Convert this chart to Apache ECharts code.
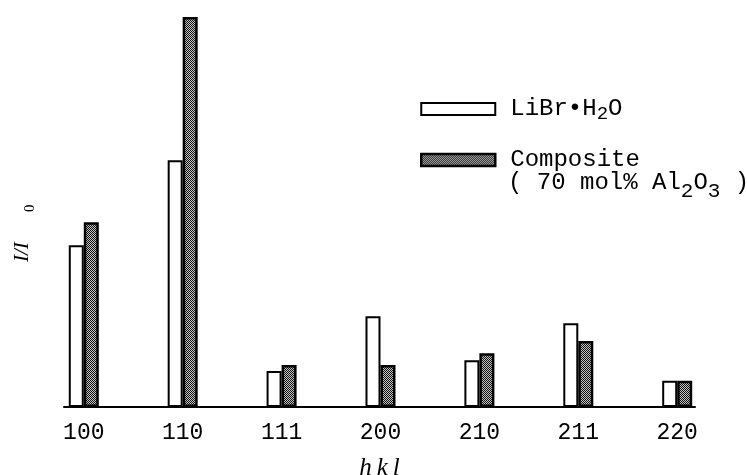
<!DOCTYPE html>
<html>
<head>
<meta charset="utf-8">
<script src="https://cdn.jsdelivr.net/npm/echarts@6/dist/echarts.min.js"></script>
<style>html,body{margin:0;padding:0;background:#fff;}#c{width:747px;height:475px;}</style>
</head>
<body>
<div id="c"></div>
<script>
var categories = ['100', '110', '111', '200', '210', '211', '220'];
var libr = [41.5, 63.3, 9.2, 23.3, 12.0, 21.5, 6.7];
var composite = [47.4, 100, 10.8, 10.8, 13.8, 16.9, 6.7];

var cv = document.createElement('canvas');
cv.width = 2; cv.height = 2;
var cx = cv.getContext('2d');
cx.fillStyle = '#c4c4c4'; cx.fillRect(0, 0, 2, 2);
cx.fillStyle = '#111'; cx.fillRect(0, 0, 1, 1); cx.fillRect(1, 1, 1, 1);
var pattern = { image: cv, repeat: 'repeat' };

var mono = '"Liberation Mono", "DejaVu Sans Mono", monospace';
var chart = echarts.init(document.getElementById('c'));
chart.setOption({
  animation: false,
  backgroundColor: '#fff',
  grid: { left: 64, right: 52, top: 17, bottom: 68, outerBoundsMode: 'none', containLabel: false },
  xAxis: {
    type: 'value',
    min: -0.2, max: 6.18, interval: 0.2,
    axisLine: { show: true, lineStyle: { color: '#000', width: 2 } },
    axisTick: { show: false },
    splitLine: { show: false },
    axisLabel: {
      color: '#000', fontFamily: mono, fontSize: 23, margin: 14,
      showMinLabel: false, showMaxLabel: false, hideOverlap: false,
      formatter: function (v) {
        var r = Math.round(v);
        return Math.abs(v - r) < 1e-6 && categories[r] ? categories[r] : '';
      }
    },
    name: 'h\u2009k\u2009l', nameLocation: 'middle', nameGap: 49,
    nameTextStyle: { fontFamily: '"Liberation Serif", serif', fontStyle: 'italic', fontSize: 25, color: '#000' }
  },
  yAxis: {
    type: 'value', min: 0, max: 100,
    show: false
  },
  legend: {
    orient: 'vertical', left: 415, top: 92,
    itemWidth: 74, itemHeight: 12, itemGap: 25, icon: 'rect',
    textStyle: {
      fontFamily: mono, fontSize: 24, color: '#000', padding: [0, 0, 0, 10],
      rich: {
        a: { fontFamily: mono, fontSize: 24, color: '#000', lineHeight: 24 },
        s: { fontFamily: mono, fontSize: 19, color: '#000', padding: [9, 0, 0, 0] }
      }
    },
    formatter: function (n) {
      if (n === 'LiBr·H2O') return '{a|LiBr•H}{s|2}{a|O}';
      return '{a|' + n + '}';
    },
    data: [
      { name: 'LiBr·H2O', itemStyle: { color: '#fff', borderColor: '#000', borderWidth: 2 } },
      { name: 'Composite', itemStyle: { color: pattern, borderColor: '#000', borderWidth: 2.5 } }
    ]
  },
  graphic: [
    {
      type: 'text', left: 508, top: 171,
      style: {
        text: '{a|( 70 mol% Al}{s|2}{a|O}{s|3}{a| )}',
        rich: {
          a: { fontFamily: mono, fontSize: 24, fill: '#000', lineHeight: 24 },
          s: { fontFamily: mono, fontSize: 21, fill: '#000', padding: [16, 0, 0, 0] }
        }
      }
    },
    {
      type: 'group', x: 22, y: 232, rotation: Math.PI / 2,
      children: [
        { type: 'text', x: -30, y: -10, style: { text: 'I/I', font: 'italic 21px "Liberation Serif", serif', fill: '#000' } },
        { type: 'text', x: 20, y: 1, style: { text: '0', font: '15px "Liberation Serif", serif', fill: '#000' } }
      ]
    }
  ],
  series: [
    {
      name: 'LiBr·H2O', type: 'bar', barWidth: 15, barGap: '0%',
      data: categories.map(function (c, i) { return [i, libr[i]]; }),
      itemStyle: { color: '#fff', borderColor: '#000', borderWidth: 2 }
    },
    {
      name: 'Composite', type: 'bar', barWidth: 15, barGap: '0%',
      data: categories.map(function (c, i) { return [i, composite[i]]; }),
      itemStyle: { color: pattern, borderColor: '#000', borderWidth: 2.5 }
    }
  ]
});
</script>
</body>
</html>
